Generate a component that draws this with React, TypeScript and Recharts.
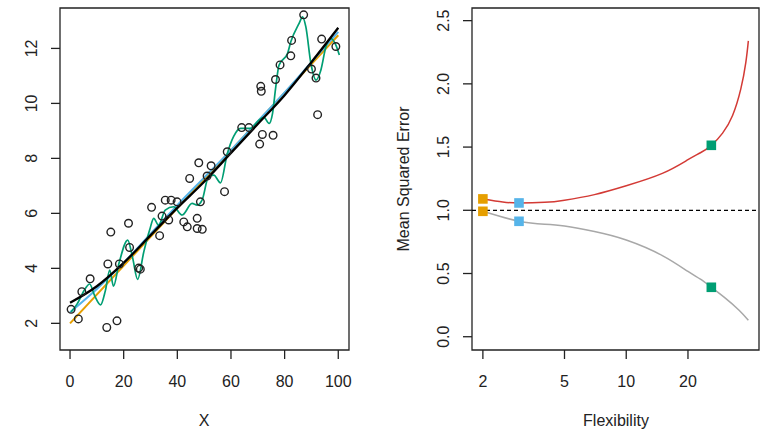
import React from 'react';
import {
  ComposedChart,
  Line,
  Scatter,
  XAxis,
  YAxis,
  ReferenceArea,
  ReferenceLine,
} from 'recharts';

// ---- left panel: simulated observations and fitted curves ----
const obsX = [
  0.4, 3.1, 4.4, 7.5, 13.7, 14.1, 15.2, 17.5, 18.4, 21.8, 22.2, 25.6, 26.2, 30.4, 33.4, 34.3,
  35.5, 37.7, 39.9, 36.8, 42.4, 43.7, 44.6, 48.0, 48.6, 47.4, 47.4, 49.3, 52.6, 51.1, 57.6,
  58.6, 64.0, 66.7, 70.7, 71.7, 71.1, 71.3, 75.7, 76.6, 78.3, 82.3, 82.6, 87.1, 90.0, 91.7,
  92.3, 93.8, 99.1,
];
const obsY = [
  2.51, 2.16, 3.15, 3.62, 1.85, 4.16, 5.32, 2.09, 4.16, 5.64, 4.76, 4.01, 3.97, 6.22, 5.19, 5.9,
  6.48, 6.48, 6.42, 5.76, 5.69, 5.51, 7.27, 7.84, 6.42, 5.82, 5.45, 5.42, 7.73, 7.36, 6.79,
  8.24, 9.12, 9.12, 8.52, 8.87, 10.62, 10.44, 8.84, 10.87, 11.4, 11.73, 12.29, 13.22, 11.25,
  10.92, 9.59, 12.34, 12.07,
];

// true f
const trueX = [0, 10, 20, 30, 40, 50, 60, 70, 80, 90, 100];
const trueY = [2.75, 3.35, 4.2, 5.2, 6.2, 7.15, 8.2, 9.25, 10.3, 11.5, 12.75];

// linear regression
const linX = [0, 100];
const linY = [2.0, 12.48];

// smooth spline, low df
const smoothX = [0, 10, 20, 30, 40, 50, 60, 70, 80, 90, 100];
const smoothY = [2.4, 3.25, 4.2, 5.25, 6.3, 7.3, 8.3, 9.35, 10.4, 11.5, 12.6];

// wiggly spline, high df
const wiggleX = [
  0.4, 2.6, 5.6, 7.3, 9.2, 11.4, 13.2, 14.8, 16.2, 18.3, 21.5, 23.3, 25.2, 27.5, 29.7, 31.2,
  33.0, 35.5, 38.6, 41.8, 45.5, 47.4, 49.3, 51.5, 53.6, 56.1, 58.6, 61.0, 63.6, 67.3, 70.4,
  72.3, 74.2, 75.5, 76.7, 77.9, 81.1, 82.3, 85.4, 86.7, 87.9, 89.8, 91.7, 93.5, 95.4, 97.3,
  99.1, 100.4,
];
const wiggleY = [
  2.41, 2.7, 3.25, 3.43, 3.0, 2.67, 3.2, 3.94, 3.35, 4.2, 5.03, 4.4, 3.6, 4.6, 5.4, 5.82, 5.57,
  6.12, 6.24, 5.94, 6.36, 6.3, 6.5, 7.3, 7.39, 7.11, 8.16, 8.8, 9.09, 9.09, 9.39, 9.49, 9.27,
  9.64, 10.6, 11.39, 11.82, 12.24, 12.91, 13.15, 12.79, 11.45, 10.85, 11.21, 12.06, 12.36,
  12.12, 11.76,
];

const leftXTicks = [0, 20, 40, 60, 80, 100];
const leftYTicks = [2, 4, 6, 8, 10, 12];

// ---- right panel: MSE against flexibility ----
const testFlex = [2, 2.5, 3, 4, 5, 7, 10, 15, 20, 23, 26, 29.5, 33, 36.2, 38.3, 39.4];
const testMse = [1.09, 1.066, 1.058, 1.063, 1.08, 1.124, 1.194, 1.292, 1.4, 1.455, 1.514, 1.61, 1.75, 1.96, 2.17, 2.34];

const trainFlex = [2, 3, 4, 5, 7, 10, 15, 20, 23, 26, 30, 35.5, 39.4];
const trainMse = [0.992, 0.913, 0.89, 0.876, 0.832, 0.765, 0.642, 0.516, 0.455, 0.391, 0.313, 0.21, 0.13];

// linear fit, smooth spline, wiggly spline
const fitFlex = [2, 3, 26];
const fitTestMse = [1.09, 1.058, 1.514];
const fitTrainMse = [0.992, 0.913, 0.391];

const rightXTicks = [2, 5, 10, 20];
const rightYTicks = [0, 0.5, 1, 1.5, 2, 2.5];

const ORANGE = '#E69F00';
const BLUE = '#56B4E9';
const GREEN = '#009E73';
const FIT_COLORS = [ORANGE, BLUE, GREEN];
const FONT = '"Liberation Sans", Arial, Helvetica, sans-serif';
const INK = '#222';

const zip = (xs: number[], ys: number[]) => xs.map((x, i) => ({ x, y: ys[i] }));

const obsData = zip(obsX, obsY);
const trueData = zip(trueX, trueY);
const linData = zip(linX, linY);
const smoothData = zip(smoothX, smoothY);
const wiggleData = zip(wiggleX, wiggleY);
const testData = zip(testFlex, testMse);
const trainData = zip(trainFlex, trainMse);
const fitData = fitFlex.map((x, i) => [
  { x, y: fitTestMse[i] },
  { x, y: fitTrainMse[i] },
]);

const LEFT_X: [number, number] = [-3.74, 104];
const LEFT_Y: [number, number] = [1.03, 13.47];
const RIGHT_X: [number, number] = [1.77, 44.4];
const RIGHT_Y: [number, number] = [-0.105, 2.6];

function XTick(props: any) {
  const { x, y, payload, fmt } = props;
  return (
    <text x={x} y={y + 27.5} textAnchor="middle" fontSize={16} fontFamily={FONT} fill={INK}>
      {fmt ? fmt(payload.value) : payload.value}
    </text>
  );
}

function YTick(props: any) {
  const { x, y, payload, fmt } = props;
  const tx = x - 14;
  return (
    <text
      x={tx}
      y={y}
      transform={`rotate(-90, ${tx}, ${y})`}
      textAnchor="middle"
      fontSize={16}
      fontFamily={FONT}
      fill={INK}
    >
      {fmt ? fmt(payload.value) : payload.value}
    </text>
  );
}

const openCircle = (p: any) => (
  <circle cx={p.cx} cy={p.cy} r={3.8} fill="none" stroke={INK} strokeWidth={1.4} />
);

const square = (color: string) => (p: any) => (
  <rect x={p.cx - 4.8} y={p.cy - 4.8} width={9.6} height={9.6} fill={color} />
);

function FitPanel() {
  return (
    <ComposedChart width={380} height={432} margin={{ top: 8, right: 31, bottom: 2, left: 0 }}>
      <XAxis
        dataKey="x"
        type="number"
        domain={LEFT_X}
        allowDataOverflow
        ticks={leftXTicks}
        height={80}
        axisLine={false}
        tickSize={9}
        tickMargin={0}
        tickLine={{ stroke: INK, strokeWidth: 1.3 }}
        tick={(p: any) => <XTick {...p} />}
      />
      <YAxis
        type="number"
        domain={LEFT_Y}
        allowDataOverflow
        ticks={leftYTicks}
        width={60}
        axisLine={false}
        tickSize={9}
        tickMargin={0}
        tickLine={{ stroke: INK, strokeWidth: 1.3 }}
        tick={(p: any) => <YTick {...p} />}
      />
      <ReferenceArea
        x1={LEFT_X[0]}
        x2={LEFT_X[1]}
        y1={LEFT_Y[0]}
        y2={LEFT_Y[1]}
        fill="none"
        stroke={INK}
        strokeWidth={1.3}
        ifOverflow="visible"
      />
      <Scatter data={obsData} dataKey="y" shape={openCircle} isAnimationActive={false} />
      <Line data={linData} dataKey="y" type="linear" stroke={ORANGE} strokeWidth={2} dot={false} activeDot={false} isAnimationActive={false} />
      <Line data={smoothData} dataKey="y" type="monotone" stroke={BLUE} strokeWidth={2} dot={false} activeDot={false} isAnimationActive={false} />
      <Line data={wiggleData} dataKey="y" type="monotone" stroke={GREEN} strokeWidth={1.7} dot={false} activeDot={false} isAnimationActive={false} />
      <Line data={trueData} dataKey="y" type="monotone" stroke="#000" strokeWidth={2.3} dot={false} activeDot={false} isAnimationActive={false} />
    </ComposedChart>
  );
}

function MsePanel() {
  return (
    <ComposedChart width={381} height={432} margin={{ top: 8, right: 2, bottom: 2, left: 0 }}>
      <XAxis
        dataKey="x"
        type="number"
        scale="log"
        domain={RIGHT_X}
        allowDataOverflow
        ticks={rightXTicks}
        height={80}
        axisLine={false}
        tickSize={9}
        tickMargin={0}
        tickLine={{ stroke: INK, strokeWidth: 1.3 }}
        tick={(p: any) => <XTick {...p} />}
      />
      <YAxis
        type="number"
        domain={RIGHT_Y}
        allowDataOverflow
        ticks={rightYTicks}
        width={92}
        axisLine={false}
        tickSize={9}
        tickMargin={0}
        tickLine={{ stroke: INK, strokeWidth: 1.3 }}
        tick={(p: any) => <YTick {...p} fmt={(v: number) => v.toFixed(1)} />}
      />
      <ReferenceArea
        x1={RIGHT_X[0]}
        x2={RIGHT_X[1]}
        y1={RIGHT_Y[0]}
        y2={RIGHT_Y[1]}
        fill="none"
        stroke={INK}
        strokeWidth={1.3}
        ifOverflow="visible"
      />
      <ReferenceLine y={1} stroke="#000" strokeWidth={1.3} strokeDasharray="4 3" />
      <Line data={trainData} dataKey="y" type="natural" stroke="#a8a8a8" strokeWidth={1.5} dot={false} activeDot={false} isAnimationActive={false} />
      <Line data={testData} dataKey="y" type="natural" stroke="#D33A35" strokeWidth={1.5} dot={false} activeDot={false} isAnimationActive={false} />
      {fitData.map((d, i) => (
        <Scatter key={i} data={d} dataKey="y" shape={square(FIT_COLORS[i])} isAnimationActive={false} />
      ))}
    </ComposedChart>
  );
}

export default function App() {
  return (
    <div style={{ position: 'relative', width: 761, height: 432, background: '#fff', overflow: 'hidden' }}>
      <style>{'body{margin:0}'}</style>
      <div style={{ position: 'absolute', left: 0, top: 0 }}>
        <FitPanel />
      </div>
      <div style={{ position: 'absolute', left: 380, top: 0 }}>
        <MsePanel />
      </div>
      {/* axis titles */}
      <svg width={761} height={432} style={{ position: 'absolute', left: 0, top: 0, pointerEvents: 'none' }}>
        <text x={204} y={426} textAnchor="middle" fontSize={16} fontFamily={FONT} fill={INK}>
          X
        </text>
        <text x={616} y={426} textAnchor="middle" fontSize={16} fontFamily={FONT} fill={INK}>
          Flexibility
        </text>
        <text
          x={409}
          y={179}
          transform="rotate(-90, 409, 179)"
          textAnchor="middle"
          fontSize={16}
          fontFamily={FONT}
          fill={INK}
        >
          Mean Squared Error
        </text>
      </svg>
    </div>
  );
}
